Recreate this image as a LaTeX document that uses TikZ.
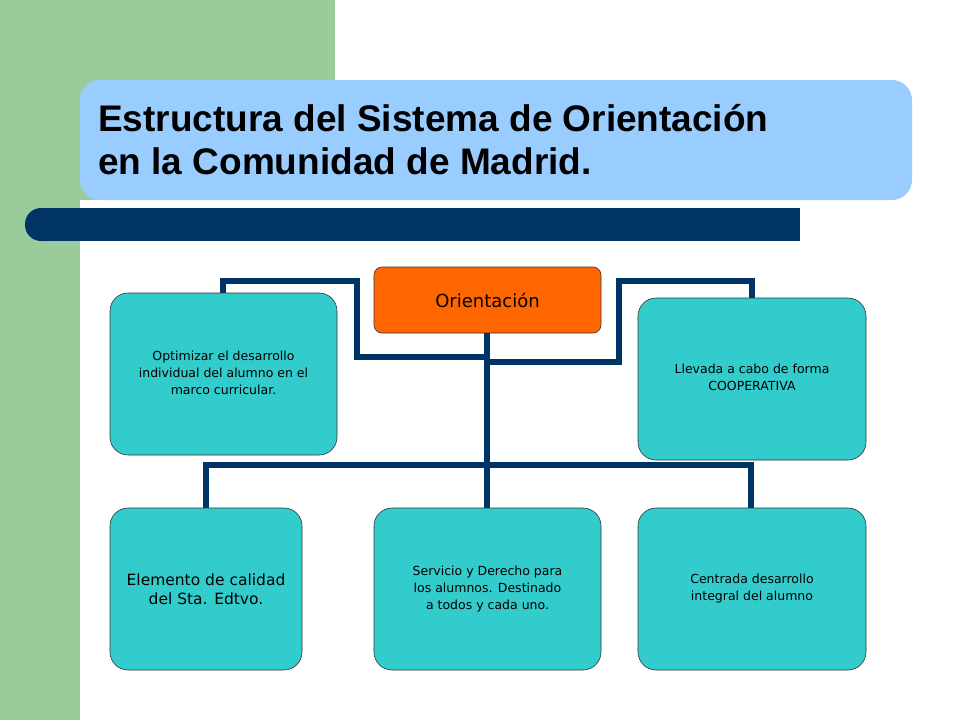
\documentclass[tikz,border=0pt]{standalone}
\usepackage{fontspec}
\setmainfont{Liberation Sans}
\newfontfamily\boxfont{DejaVu Sans}
\begin{document}
\begin{tikzpicture}[x=1pt,y=-1pt,
  box/.style={draw=black!80,line width=0.6pt,fill=cyanbox,rounded corners=18pt,inner sep=0pt,align=center,font=\boxfont\fontsize{12.5}{17}\selectfont},
  conn/.style={draw=navy,line width=6pt}]
\definecolor{cyanbox}{HTML}{33CCCC}
\definecolor{navy}{HTML}{003366}
\definecolor{greenbg}{HTML}{99CC99}
\definecolor{titlebg}{HTML}{99CCFF}
\definecolor{orangebox}{HTML}{FF6600}
\useasboundingbox (0,0) rectangle (960,720);
\fill[white] (0,0) rectangle (960,720);
\fill[greenbg] (0,0) rectangle (335,200);
\fill[greenbg] (0,0) rectangle (80,720);
\fill[titlebg,rounded corners=20pt] (80,80) rectangle (912,200);
\node[anchor=west,align=left,inner sep=0pt,font=\bfseries\fontsize{37}{43}\selectfont] (title) at (98,140) {Estructura del Sistema de Orientación\\en la Comunidad de Madrid.};
\fill[navy,rounded corners=16pt] (25,208) rectangle (60,241);
\fill[navy] (42,208) rectangle (800,241);
\node[box,fill=orangebox,rounded corners=8pt,minimum width=227pt,minimum height=66pt,font=\boxfont\fontsize{18}{20}\selectfont] (ori) at (487.5,300) {Orientación};
\coordinate (lt) at (223,293);
\coordinate (rt) at (752,298);
\coordinate (bl) at (206,508);
\coordinate (bc) at (487,508);
\coordinate (br) at (751,508);
\draw[conn] (lt) -- (223,281) -- (357,281) -- (357,357) -- (487,357);
\draw[conn] (rt) -- (752,281) -- (619,281) -- (619,362) -- (487,362);
\draw[conn] (ori.south -| 487,0) -- (487,465);
\draw[conn,line cap=rect] (bl) -- (206,465) -- (751,465) -- (br);
\draw[conn] (487,465) -- (bc);
\node[box,minimum width=227pt,minimum height=162pt] (b1) at (223.5,374) {\raisebox{7pt}{\begin{tabular}{@{}c@{}}Optimizar el desarrollo\\individual del alumno en el\\marco curricular.\end{tabular}}};
\node[box,minimum width=228pt,minimum height=162pt] (b2) at (752,379) {\raisebox{10pt}{\begin{tabular}{@{}c@{}}Llevada a cabo de forma\\COOPERATIVA\end{tabular}}};
\node[box,minimum width=192pt,minimum height=162pt,font=\boxfont\fontsize{15.5}{19}\selectfont] (b3) at (206,589) {Elemento de calidad\\del Sta. Edtvo.};
\node[box,minimum width=227pt,minimum height=162pt] (b4) at (487.5,589) {\raisebox{2pt}{\begin{tabular}{@{}c@{}}Servicio y Derecho para\\los alumnos. Destinado\\a todos y cada uno.\end{tabular}}};
\node[box,minimum width=228pt,minimum height=162pt] (b5) at (752,589) {\raisebox{2pt}{\begin{tabular}{@{}c@{}}Centrada desarrollo\\integral del alumno\end{tabular}}};
\end{tikzpicture}
\end{document}
